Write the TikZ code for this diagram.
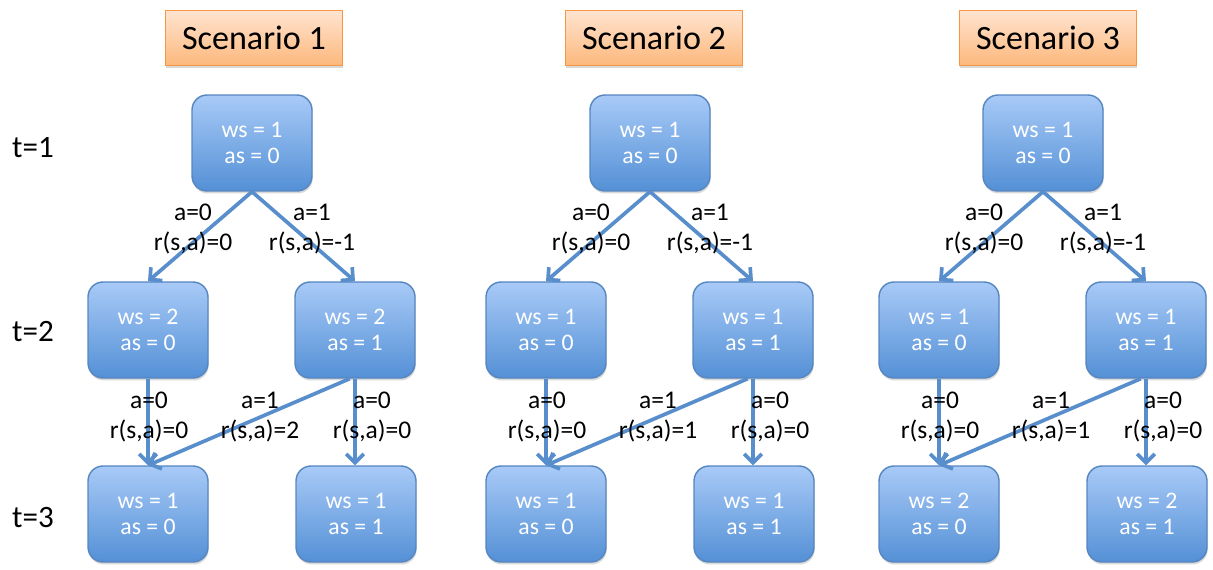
\documentclass[tikz,border=0pt]{standalone}
\usepackage{fontspec}
\setmainfont{Carlito}
\usetikzlibrary{arrows.meta,shadows}

\definecolor{boxtop}{RGB}{168,202,247}
\definecolor{boxbot}{RGB}{84,144,214}
\definecolor{boxline}{RGB}{86,134,192}
\definecolor{hdrtop}{RGB}{255,228,208}
\definecolor{hdrbot}{RGB}{252,184,124}
\definecolor{hdrline}{RGB}{247,150,70}
\definecolor{arrowcol}{RGB}{88,142,204}

\tikzset{
  state/.style={draw=boxline, line width=0.8pt, rounded corners=8.5pt,
    top color=boxtop, bottom color=boxbot, text=white,
    minimum width=2.4cm, minimum height=1.92cm, align=center,
    font=\fontsize{13.5}{15}\selectfont,
    drop shadow={opacity=0.3, shadow xshift=0.4pt, shadow yshift=-1.4pt}},
  header/.style={draw=hdrline, line width=0.8pt,
    top color=hdrtop, bottom color=hdrbot,
    minimum width=3.54cm, minimum height=1.1cm,
    font=\fontsize{19.4}{22}\selectfont,
    drop shadow={opacity=0.3, shadow xshift=0.4pt, shadow yshift=-1.4pt}},
  act/.style={draw=arrowcol, line width=2.1pt, -{Straight Barb[length=5pt,width=10pt]}},
  lbl/.style={align=center, font=\fontsize{14.5}{16.8}\selectfont},
  tlbl/.style={font=\fontsize{17.7}{20}\selectfont}
}

\begin{document}
\begin{tikzpicture}[x=0.02cm, y=-0.02cm]
\useasboundingbox (0,0) rectangle (1213,569);

\node[tlbl] (t1) at (33,148) {t=1};
\node[tlbl] (t2) at (33,332) {t=2};
\node[tlbl] (t3) at (33,518) {t=3};

\foreach \i/\dx/\hx/\wl/\wb/\rr in {1/0/254/2/1/2, 2/398/654/1/1/1, 3/791/1048/1/2/1} {
\begin{scope}[xshift=\dx*0.02cm]
\node[header] (hdr\i) at (\hx-\dx,38) {Scenario \i};
\node[state] (top\i) at (252,143) {ws = 1\\as = 0};
\node[state] (l\i) at (148,330) {ws = \wl\\as = 0};
\node[state] (r\i) at (355,330) {ws = \wl\\as = 1};
\node[state] (ll\i) at (148,514) {ws = \wb\\as = 0};
\node[state] (lr\i) at (356,514) {ws = \wb\\as = 1};
\draw[act] (top\i.south) -- (l\i.north);
\draw[act] (top\i.south) -- (r\i.north);
\draw[act] (l\i.south) -- (ll\i.north);
\draw[act] ([xshift=-3pt]r\i.south) -- (ll\i.north);
\draw[act] (r\i.south) -- (r\i.south |- lr\i.north);
\node[lbl] (e1\i) at (193,229) {a=0\\r(s,a)=0};
\node[lbl] (e2\i) at (312,229) {a=1\\r(s,a)=-1};
\node[lbl] (e3\i) at (149,417) {a=0\\r(s,a)=0};
\node[lbl] (e4\i) at (260,417) {a=1\\r(s,a)=\rr};
\node[lbl] (e5\i) at (372,417) {a=0\\r(s,a)=0};
\end{scope}
}
\end{tikzpicture}
\end{document}
